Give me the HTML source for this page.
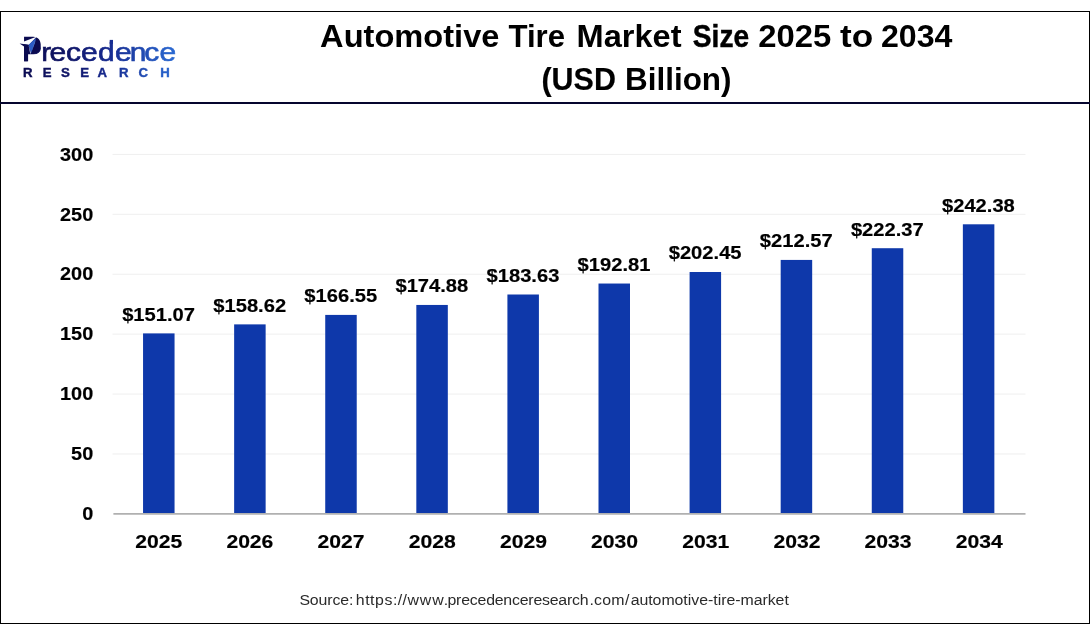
<!DOCTYPE html>
<html lang="en"><head><meta charset="utf-8"><title>Automotive Tire Market Size 2025 to 2034 (USD Billion)</title>
<style>html,body{margin:0;padding:0;background:#fff}body{width:1090px;height:636px;overflow:hidden}svg{display:block}text{font-family:"Liberation Sans",Arial,Helvetica,sans-serif}</style></head><body>
<svg width="1090" height="636" viewBox="0 0 1090 636">
<defs><linearGradient id="lg" gradientUnits="userSpaceOnUse" x1="24" y1="0" x2="175" y2="0"><stop offset="0" stop-color="#0b0b52"/><stop offset="0.3" stop-color="#101668"/><stop offset="0.55" stop-color="#16298e"/><stop offset="1" stop-color="#2a69d2"/></linearGradient>
<linearGradient id="lgs" gradientUnits="userSpaceOnUse" x1="20.2" y1="0" x2="147" y2="0"><stop offset="0" stop-color="#0b0b52"/><stop offset="0.3" stop-color="#101668"/><stop offset="0.55" stop-color="#16298e"/><stop offset="1" stop-color="#2a69d2"/></linearGradient></defs>
<rect x="0" y="0" width="1090" height="636" fill="#fff"/>
<rect x="0.5" y="11.5" width="1089" height="612" fill="none" stroke="#000" stroke-width="1"/>
<rect x="0" y="102" width="1090" height="2" fill="#05052e"/>
<g id="logo">
<text transform="scale(1.190 1)" x="18.49 34.56 41.60 55.38 68.15 82.31 96.56 109.01 121.18 133.95" y="61.5" font-size="25.2" fill="url(#lgs)" stroke="url(#lgs)" stroke-width="0.6">Precedence</text>
<path d="M24.05 36.7 L33.2 36.7 C38.4 36.7 40.75 40.6 40.75 45.1 C40.75 50 37.6 53.7 32.6 53.7 L28.1 53.7 L28.1 61.3 L24.05 61.3 Z" fill="#0b0b50"/>
<path d="M36.9 36.6 L18.9 43.5 L28.8 45.0 Z" fill="#fbfcff"/>
<path d="M19.6 43.6 L28.9 44.7 L29.6 47.5 L24.05 46.6 Z" fill="#0b0b50"/>
<path d="M35.9 38.0 L28.7 44.8 L31.0 53.2 Z" fill="#2b5cc6"/>
<path d="M35.9 38.0 L33.4 45.2 L31.0 53.2 L34.9 43 Z" fill="#5b8de6"/>
<path d="M28.5 44.8 L31.0 53.4 L30.2 53.4 Z" fill="#cfdcf7"/>
<rect x="109.7" y="39.9" width="3.3" height="4" fill="url(#lg)"/>
<text x="22.9 42.7 60.9 80.3 97.5 119.0 138.4 160.3" y="76.6" font-size="13.2" font-weight="bold" fill="url(#lg)" stroke="url(#lg)" stroke-width="0.4">RESEARCH</text>
</g>
<g font-weight="bold" fill="#000" font-size="32.0">
<text y="46.8"><tspan x="320.08" textLength="179.34" lengthAdjust="spacingAndGlyphs">Automotive</tspan> <tspan x="508.46" textLength="56.62" lengthAdjust="spacingAndGlyphs">Tire</tspan> <tspan x="576.51" textLength="105.00" lengthAdjust="spacingAndGlyphs">Market</tspan> <tspan x="692.82" textLength="56.29" lengthAdjust="spacingAndGlyphs" stroke="#000" stroke-width="0.49">Size</tspan> <tspan x="758.27" textLength="73.09" lengthAdjust="spacingAndGlyphs">2025</tspan> <tspan x="839.95" textLength="33.17" lengthAdjust="spacingAndGlyphs">to</tspan> <tspan x="880.90" textLength="71.49" lengthAdjust="spacingAndGlyphs">2034</tspan></text>
<text y="89.7"><tspan x="541.47" textLength="74.39" lengthAdjust="spacingAndGlyphs" stroke="#000" stroke-width="0.20">(USD</tspan> <tspan x="625.09" textLength="106.45" lengthAdjust="spacingAndGlyphs">Billion)</tspan></text>
</g>
<g stroke="#efefef" stroke-width="1">
<line x1="112.5" y1="453.98" x2="1025.5" y2="453.98"/>
<line x1="112.5" y1="394.07" x2="1025.5" y2="394.07"/>
<line x1="112.5" y1="334.15" x2="1025.5" y2="334.15"/>
<line x1="112.5" y1="274.23" x2="1025.5" y2="274.23"/>
<line x1="112.5" y1="214.32" x2="1025.5" y2="214.32"/>
<line x1="112.5" y1="154.40" x2="1025.5" y2="154.40"/>
</g>
<g fill="#0e38aa">
<rect x="143.05" y="333.40" width="31.5" height="180.50"/>
<rect x="234.14" y="324.38" width="31.5" height="189.52"/>
<rect x="325.23" y="314.91" width="31.5" height="198.99"/>
<rect x="416.32" y="304.95" width="31.5" height="208.95"/>
<rect x="507.41" y="294.50" width="31.5" height="219.40"/>
<rect x="598.50" y="283.53" width="31.5" height="230.37"/>
<rect x="689.59" y="272.01" width="31.5" height="241.89"/>
<rect x="780.68" y="259.92" width="31.5" height="253.98"/>
<rect x="871.77" y="248.21" width="31.5" height="265.69"/>
<rect x="962.86" y="224.30" width="31.5" height="289.60"/>
</g>
<line x1="113.4" y1="513.90" x2="1025.5" y2="513.90" stroke="#b0b0b0" stroke-width="1.6"/>
<g font-weight="bold" fill="#000" stroke="#000" stroke-width="0.18" font-size="18.4" text-anchor="end">
<text transform="translate(93.2 520.10) scale(1.080 1)">0</text>
<text transform="translate(93.2 460.18) scale(1.080 1)">50</text>
<text transform="translate(93.2 400.27) scale(1.080 1)">100</text>
<text transform="translate(93.2 340.35) scale(1.080 1)">150</text>
<text transform="translate(93.2 280.43) scale(1.080 1)">200</text>
<text transform="translate(93.2 220.52) scale(1.080 1)">250</text>
<text transform="translate(93.2 160.60) scale(1.080 1)">300</text>
</g>
<g font-weight="bold" fill="#000" stroke="#000" stroke-width="0.18" font-size="18.5" text-anchor="middle">
<text transform="translate(158.60 320.70) scale(1.090 1)">$151.07</text>
<text transform="translate(249.69 311.68) scale(1.090 1)">$158.62</text>
<text transform="translate(340.78 302.21) scale(1.090 1)">$166.55</text>
<text transform="translate(431.87 292.25) scale(1.090 1)">$174.88</text>
<text transform="translate(522.96 281.80) scale(1.090 1)">$183.63</text>
<text transform="translate(614.05 270.83) scale(1.090 1)">$192.81</text>
<text transform="translate(705.14 259.31) scale(1.090 1)">$202.45</text>
<text transform="translate(796.23 247.22) scale(1.090 1)">$212.57</text>
<text transform="translate(887.32 235.51) scale(1.090 1)">$222.37</text>
<text transform="translate(978.41 211.60) scale(1.090 1)">$242.38</text>
</g>
<g font-weight="bold" fill="#000" stroke="#000" stroke-width="0.18" font-size="19.2" text-anchor="middle">
<text transform="translate(158.70 547.60) scale(1.100 1)">2025</text>
<text transform="translate(249.87 547.60) scale(1.100 1)">2026</text>
<text transform="translate(341.05 547.60) scale(1.100 1)">2027</text>
<text transform="translate(432.22 547.60) scale(1.100 1)">2028</text>
<text transform="translate(523.39 547.60) scale(1.100 1)">2029</text>
<text transform="translate(614.57 547.60) scale(1.100 1)">2030</text>
<text transform="translate(705.74 547.60) scale(1.100 1)">2031</text>
<text transform="translate(796.91 547.60) scale(1.100 1)">2032</text>
<text transform="translate(888.08 547.60) scale(1.100 1)">2033</text>
<text transform="translate(979.26 547.60) scale(1.100 1)">2034</text>
</g>
<text transform="scale(1.120 1)" y="604.7" font-size="14.2" fill="#2a2a2a" x="267.38 276.66 284.41 292.16 296.79 303.76 311.51 315.46 317.66 326.20 330.46 334.74 343.28 350.96 355.22 359.48 363.74 374.83 385.93 396.16 399.54 407.21 411.80 419.48 426.38 434.05 441.73 449.40 457.08 463.98 471.65 476.24 483.92 490.82 498.49 506.17 510.77 517.67 526.25 530.33 537.69 545.87 558.11 563.07 570.91 578.76 582.69 590.54 602.30 610.15 614.07 617.21 624.27 632.12 636.82 640.75 643.87 648.59 656.44 661.13 672.90 680.75 685.45 692.51 700.36">Source: https://www.precedenceresearch.com/automotive-tire-market</text>
</svg></body></html>
